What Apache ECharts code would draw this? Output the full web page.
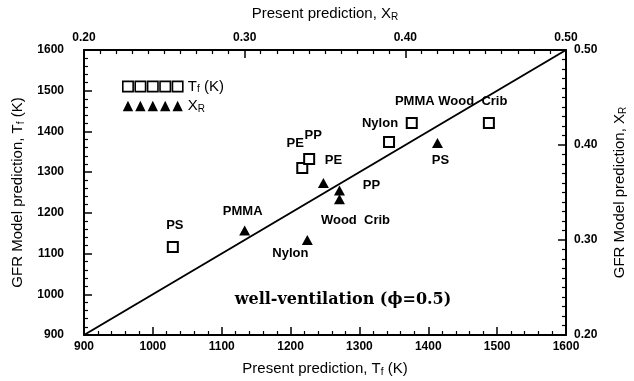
<!DOCTYPE html>
<html>
<head>
<meta charset="utf-8">
<script src="https://cdn.jsdelivr.net/npm/echarts@6/dist/echarts.min.js"></script>
<style>html,body{margin:0;padding:0;background:#fff;}#c{width:634px;height:381px;}</style>
</head>
<body>
<div id="c"></div>
<script>
// ---- data ----
var materials = ['PS', 'PE', 'PP', 'Nylon', 'PMMA', 'Wood  Crib'];
// flame temperature: present prediction (x), GFR model (y), K
var tfPresent = [1029, 1217, 1227, 1343, 1376, 1488];
var tfGFR     = [1116, 1310, 1332, 1374, 1421, 1421];
// radiative fraction: present prediction (x), GFR model (y)
var triMaterials = ['PMMA', 'Nylon', 'PE', 'PP', 'Wood  Crib', 'PS'];
var xrPresent = [0.300, 0.339, 0.349, 0.359, 0.359, 0.420];
var xrGFR     = [0.310, 0.300, 0.360, 0.352, 0.343, 0.402];
var diagonal = [[900, 900], [1600, 1600]];
var tfTicks = [900, 1600, 100];
var xrTicks = [0.2, 0.5, 0.1];

// ---- layout (label offsets in px) ----
var sqOffsets = {'PS':[2,-22], 'PE':[-7,-25], 'PP':[4,-24], 'Nylon':[-9,-19], 'PMMA':[3,-21], 'Wood  Crib':[-16,-21]};
var triOffsets = {'PMMA':[-2,-19], 'Nylon':[-17,13], 'PE':[10,-23], 'PP':[32,-5], 'Wood  Crib':[16,21], 'PS':[3,17]};

var FONT = '"Liberation Sans", Arial, sans-serif';
var lblStyle = {show:true, position:'inside', color:'#000', fontFamily:FONT, fontWeight:'bold', fontSize:13};

function mk(xs, ys, names, offs) {
  return xs.map(function(x, i){
    return {value:[x, ys[i]], name:names[i],
      label: Object.assign({}, lblStyle, {formatter:names[i], offset:offs[names[i]]})};
  });
}

var rich = {
  n:{fontFamily:FONT, fontSize:15, color:'#000'},
  s:{fontFamily:FONT, fontSize:10, color:'#000', verticalAlign:'bottom', padding:[6,0,0,0]}
};

function axisCommon(ticks, minorSplit, fmt, labelMargin) {
  return {
    type:'value', min:ticks[0], max:ticks[1], interval:ticks[2],
    axisLine:{show:true, onZero:false, lineStyle:{color:'#000', width:2}},
    axisTick:{show:true, inside:true, length:8, lineStyle:{color:'#000', width:1.5}},
    minorTick:{show:true, splitNumber:minorSplit, length:4, lineStyle:{color:'#000', width:1.2}},
    splitLine:{show:false},
    axisLabel:{color:'#000', fontFamily:FONT, fontWeight:'bold', fontSize:12, margin:labelMargin, formatter:fmt},
    nameTextStyle:{rich:rich}
  };
}

var chart = echarts.init(document.getElementById('c'), null, {renderer:'canvas'});
var xB = axisCommon(tfTicks, 5, function(v){return String(v);}, 6);
xB.position='bottom'; xB.name='{n|Present prediction, T}{s|f}{n| (K)}'; xB.nameLocation='middle'; xB.nameGap=26;
var xT = axisCommon(xrTicks, 10, function(v){return v.toFixed(2);}, 6);
xT.position='top'; xT.name='{n|Present prediction, X}{s|R}'; xT.nameLocation='middle'; xT.nameGap=28;
var yL = axisCommon(tfTicks, 5, function(v){return String(v);}, 20);
yL.position='left'; yL.name='{n|GFR Model prediction, T}{s|f}{n| (K)}'; yL.nameLocation='middle'; yL.nameGap=58;
var yR = axisCommon(xrTicks, 10, function(v){return v.toFixed(2);}, 8);
yR.position='right'; yR.name='{n|GFR Model prediction, X}{s|R}'; yR.nameLocation='middle'; yR.nameGap=46; yR.nameRotate=90;

var option = {
  backgroundColor:'#fff',
  animation:false,
  grid:{left:84, right:68, top:50, bottom:46, containLabel:false, outerBoundsMode:'none'},
  xAxis:[xB, xT],
  yAxis:[yL, yR],
  legend:{
    left:117, top:74, orient:'vertical', itemGap:4, itemWidth:60, itemHeight:11,
    textStyle:{color:'#000', rich:rich},
    formatter:function(n){ return n==='Tf' ? '{n|T}{s|f}{n| (K)}' : '{n|X}{s|R}'; },
    data:[
      {name:'Tf', icon:'path://M0,0H10V10H0Z M12,0H22V10H12Z M24,0H34V10H24Z M36,0H46V10H36Z M48,0H58V10H48Z',
       itemStyle:{color:'#fff', borderColor:'#000', borderWidth:1.6}},
      {name:'XR', icon:'path://M0,10L5,0L10,10Z M12,10L17,0L22,10Z M24,10L29,0L34,10Z M36,10L41,0L46,10Z M48,10L53,0L58,10Z',
       itemStyle:{color:'#000', borderWidth:0}}
    ]
  },
  series:[
    {type:'line', name:'diag', xAxisIndex:0, yAxisIndex:0, data:diagonal, symbol:'none',
     lineStyle:{color:'#000', width:2}, silent:true},
    {type:'scatter', name:'Tf', xAxisIndex:0, yAxisIndex:0, symbol:'rect', symbolSize:10,
     itemStyle:{color:'#fff', borderColor:'#000', borderWidth:2, opacity:1},
     data:mk(tfPresent, tfGFR, materials, sqOffsets), z:3},
    {type:'scatter', name:'XR', xAxisIndex:1, yAxisIndex:1, symbol:'triangle', symbolSize:[11,10],
     itemStyle:{color:'#000', opacity:1},
     data:mk(xrPresent, xrGFR, triMaterials, triOffsets), z:3}
  ],
  graphic:[
    {type:'text', x:343, y:300, style:{text:'well-ventilation (\u03d5=0.5)', fill:'#000',
      font:'bold 16px "DejaVu Serif", "Liberation Serif", serif', textAlign:'center', textVerticalAlign:'middle'}}
  ]
};
chart.setOption(option);
</script>
</body>
</html>
